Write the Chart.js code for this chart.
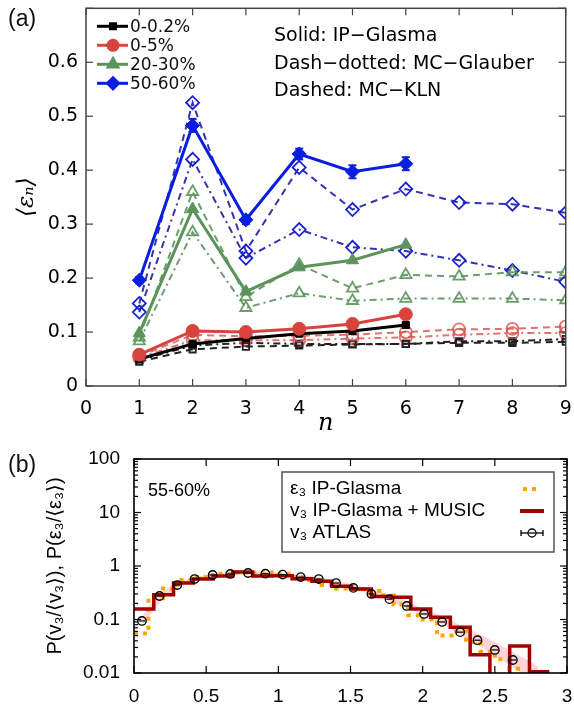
<!DOCTYPE html>
<html>
<head>
<meta charset="utf-8">
<script src="https://cdn.jsdelivr.net/npm/chart.js@4.4.0/dist/chart.umd.min.js"></script>
<style>
  body { margin: 0; background: #fff; width: 574px; height: 708px; position: relative; overflow: hidden; font-family: "DejaVu Sans", sans-serif; }
  #chartA { position: absolute; left: 0; top: 0; }
  #chartB { position: absolute; left: 0; top: 440px; }
  .lbl { position: absolute; font-size: 23px; color: #111; font-family: "Liberation Sans", "DejaVu Sans", sans-serif; }
</style>
</head>
<body>
<canvas id="chartA" width="574" height="440"></canvas>
<canvas id="chartB" width="574" height="268"></canvas>
<div class="lbl" style="left:8px;top:5px">(a)</div>
<div class="lbl" style="left:8px;top:451px">(b)</div>
<script>
// ---- panel (a): <eps_n> vs n ----
var nAll = [1, 2, 3, 4, 5, 6, 7, 8, 9];
var nIP = [1, 2, 3, 4, 5, 6];
var centralities = ['0-0.2%', '0-5%', '20-30%', '50-60%'];

var ip_0_02   = [0.050, 0.078, 0.088, 0.097, 0.102, 0.113];
var ip_0_5    = [0.058, 0.102, 0.100, 0.106, 0.115, 0.133];
var ip_20_30  = [0.098, 0.328, 0.175, 0.220, 0.233, 0.262];
var ip_50_60  = [0.196, 0.483, 0.308, 0.430, 0.397, 0.412];
var ipErr_50_60 = [0.006, 0.012, 0.008, 0.010, 0.012, 0.012];

var kln_0_02  = [0.045, 0.068, 0.073, 0.075, 0.077, 0.078, 0.080, 0.080, 0.082];
var kln_0_5   = [0.055, 0.095, 0.092, 0.093, 0.095, 0.100, 0.105, 0.106, 0.110];
var kln_20_30 = [0.090, 0.360, 0.165, 0.225, 0.181, 0.206, 0.203, 0.211, 0.211];
var kln_50_60 = [0.153, 0.525, 0.250, 0.405, 0.327, 0.365, 0.340, 0.337, 0.321];

var glb_0_02  = [0.048, 0.075, 0.080, 0.078, 0.078, 0.078, 0.083, 0.083, 0.087];
var glb_0_5   = [0.052, 0.085, 0.085, 0.085, 0.088, 0.090, 0.095, 0.098, 0.098];
var glb_20_30 = [0.083, 0.285, 0.145, 0.172, 0.158, 0.162, 0.162, 0.162, 0.159];
var glb_50_60 = [0.137, 0.420, 0.237, 0.290, 0.257, 0.250, 0.233, 0.214, 0.193];

var yTickLabelsA = ['0', '0.1', '0.2', '0.3', '0.4', '0.5', '0.6', ''];
var modelNotes = ['Solid: IP\u2212Glasma', 'Dash\u2212dotted: MC\u2212Glauber', 'Dashed: MC\u2212KLN'];

// ---- panel (b): event-by-event distribution ----
var atlasX = [0.055, 0.177, 0.30, 0.42, 0.545, 0.667, 0.79, 0.91, 1.03, 1.155, 1.28, 1.40, 1.52, 1.645, 1.77, 1.89, 2.01, 2.135, 2.26, 2.38, 2.50, 2.625];
var atlasY = [0.094, 0.275, 0.44, 0.57, 0.68, 0.71, 0.74, 0.72, 0.69, 0.62, 0.57, 0.48, 0.39, 0.30, 0.24, 0.179, 0.127, 0.090, 0.058, 0.041, 0.027, 0.0175];

var musicEdges = [0, 0.137, 0.274, 0.411, 0.548, 0.685, 0.822, 0.959, 1.096, 1.233, 1.37, 1.507, 1.644, 1.781, 1.918, 2.055, 2.192, 2.329, 2.466, 2.603, 2.74, 2.877];
var musicVals = [0.157, 0.29, 0.48, 0.57, 0.65, 0.77, 0.65, 0.66, 0.58, 0.52, 0.42, 0.37, 0.27, 0.26, 0.157, 0.11, 0.072, 0.022, 0.001, 0.032, 0.0105];

var bandX  = [0.06, 0.13, 0.2, 0.3, 0.4, 0.55, 0.7, 0.9, 1.1, 1.3, 1.5, 1.7, 1.9, 2.1, 2.3, 2.5, 2.7, 2.8];
var bandLo = [0.08, 0.14, 0.24, 0.38, 0.50, 0.60, 0.68, 0.68, 0.60, 0.50, 0.38, 0.26, 0.16, 0.09, 0.045, 0.021, 0.0095, 0.007];
var bandHi = [0.12, 0.22, 0.33, 0.48, 0.60, 0.70, 0.78, 0.78, 0.70, 0.60, 0.46, 0.33, 0.21, 0.125, 0.07, 0.038, 0.019, 0.013];

var epsEdges = [0, 0.1, 0.2, 0.3, 0.4, 0.5, 0.6, 0.7, 0.8, 0.9, 1.0, 1.1, 1.2, 1.3, 1.4, 1.5, 1.6, 1.7, 1.8, 1.9, 2.0, 2.1, 2.2, 2.3, 2.4, 2.5, 2.6, 2.7];
var epsVals = [0.055, 0.25, 0.38, 0.55, 0.62, 0.68, 0.72, 0.76, 0.74, 0.76, 0.72, 0.62, 0.55, 0.44, 0.38, 0.37, 0.34, 0.28, 0.19, 0.12, 0.10, 0.05, 0.06, 0.038, 0.025, 0.018, 0.012];

var xTickLabelsB = ['0', '0.5', '1', '1.5', '2', '2.5', '3'];
var yTickValsB = [0.01, 0.1, 1, 10, 100];
var yTickLabelsB = ['0.01', '0.1', '1', '10', '100'];
var legendB = ['\u03b5\u2083 IP-Glasma', 'v\u2083 IP-Glasma + MUSIC', 'v\u2083 ATLAS'];

Chart.defaults.font.family = '"DejaVu Sans", sans-serif';
Chart.defaults.color = '#000';
Chart.defaults.animation = false;

function pts(xs, ys) {
  return xs.map(function (x, i) { return { x: x, y: ys[i] }; });
}
// histogram: each bin value is held from its left edge to the next edge
function stepPts(edges, vals) {
  return edges.map(function (x, i) { return { x: x, y: vals[Math.min(i, vals.length - 1)] }; });
}
function line(ctx, x0, y0, x1, y1) {
  ctx.beginPath(); ctx.moveTo(x0, y0); ctx.lineTo(x1, y1); ctx.stroke();
}

var black = '#000', red = '#d8433e', green = '#5b935b', blue = '#0a1ee0';
var markers = ['rect', 'circle', 'triangle', 'rectRot'];
var radii = [5, 6.5, 7, 7];
var colors = [black, red, green, blue];
var lightColors = ['#222', 'rgba(214,80,76,0.8)', 'rgba(91,147,91,0.9)', '#3434b0'];

function ipSet(i, ys) {
  return { data: pts(nIP, ys), borderColor: colors[i], backgroundColor: colors[i], borderWidth: 3,
    pointStyle: markers[i], pointRadius: radii[i], pointBackgroundColor: colors[i], pointBorderColor: colors[i], pointBorderWidth: 1 };
}
function modelSet(i, ys, dash) {
  return { data: pts(nAll, ys), borderColor: lightColors[i], borderWidth: 2, borderDash: dash,
    pointStyle: markers[i], pointRadius: radii[i] - 0.5, pointBackgroundColor: 'rgba(255,255,255,0)',
    pointBorderColor: i === 3 ? '#1a22d0' : lightColors[i], pointBorderWidth: 1.8 };
}

var ipBlue = ipSet(3, ip_50_60);
ipBlue.errorBars = ipErr_50_60;

var datasetsA = [
  ipBlue, ipSet(2, ip_20_30), ipSet(1, ip_0_5), ipSet(0, ip_0_02),
  modelSet(3, kln_50_60, [7, 5]), modelSet(2, kln_20_30, [7, 5]), modelSet(1, kln_0_5, [7, 5]), modelSet(0, kln_0_02, [7, 5]),
  modelSet(3, glb_50_60, [7, 4, 2, 4]), modelSet(2, glb_20_30, [7, 4, 2, 4]), modelSet(1, glb_0_5, [7, 4, 2, 4]), modelSet(0, glb_0_02, [7, 4, 2, 4])
];

// box + inward ticks
var framePlugin = {
  id: 'frame',
  afterDraw: function (chart, args, opts) {
    var ctx = chart.ctx, a = chart.chartArea, sx = chart.scales.x, sy = chart.scales.y;
    ctx.save();
    ctx.strokeStyle = opts.color; ctx.lineWidth = 1.2;
    sx.ticks.forEach(function (t) {
      var px = sx.getPixelForValue(t.value);
      line(ctx, px, a.bottom, px, a.bottom - 7);
      line(ctx, px, a.top, px, a.top + 7);
    });
    sy.ticks.forEach(function (t) {
      var len = 7;
      if (sy.type === 'logarithmic') {
        var d = Math.pow(10, Math.floor(Math.log10(t.value) + 1e-9));
        var r = t.value / d;
        if (Math.abs(r - Math.round(r)) > 1e-6) return;
        len = Math.abs(r - 1) < 1e-6 ? 7 : 4;
      }
      var py = sy.getPixelForValue(t.value);
      line(ctx, a.left, py, a.left + len, py);
      line(ctx, a.right, py, a.right - len, py);
    });
    ctx.lineWidth = opts.width;
    ctx.strokeRect(a.left, a.top, a.right - a.left, a.bottom - a.top);
    ctx.restore();
  }
};

var errorBarPlugin = {
  id: 'errorBars',
  afterDatasetsDraw: function (chart) {
    var ctx = chart.ctx, sy = chart.scales.y;
    chart.data.datasets.forEach(function (ds, i) {
      if (!ds.errorBars) return;
      var meta = chart.getDatasetMeta(i);
      ctx.save(); ctx.strokeStyle = ds.borderColor; ctx.lineWidth = 2;
      meta.data.forEach(function (pt, j) {
        var v = ds.data[j].y, e = ds.errorBars[j];
        var y0 = sy.getPixelForValue(v - e), y1 = sy.getPixelForValue(v + e);
        line(ctx, pt.x, y0, pt.x, y1);
        line(ctx, pt.x - 4, y0, pt.x + 4, y0);
        line(ctx, pt.x - 4, y1, pt.x + 4, y1);
      });
      ctx.restore();
    });
  }
};

var textA = {
  id: 'textA',
  afterDraw: function (chart) {
    var ctx = chart.ctx, a = chart.chartArea;
    ctx.save();
    ctx.textBaseline = 'middle';
    centralities.forEach(function (lab, i) {
      var y = a.top + 18 + i * 19;
      ctx.strokeStyle = colors[i]; ctx.fillStyle = colors[i]; ctx.lineWidth = 3;
      line(ctx, a.left + 11, y, a.left + 42, y);
      Chart.helpers.drawPoint(ctx, { pointStyle: markers[i], rotation: 0, radius: radii[i] - 1.5, borderWidth: 1 }, a.left + 27, y);
      ctx.fillStyle = '#111'; ctx.font = '17px "DejaVu Sans"';
      ctx.fillText(lab, a.left + 44, y + 1);
    });
    ctx.font = '19px "DejaVu Sans"'; ctx.fillStyle = '#000';
    modelNotes.forEach(function (t, i) {
      ctx.fillText(t, a.left + 188, a.top + 28 + i * 27.5);
    });
    ctx.restore();
  }
};

new Chart(document.getElementById('chartA').getContext('2d'), {
  type: 'line',
  data: { datasets: datasetsA },
  options: {
    responsive: false,
    layout: { padding: { left: 0, top: 4, right: 6, bottom: 0 } },
    plugins: { legend: { display: false }, tooltip: { enabled: false }, frame: { color: '#444', width: 1.5 } },
    scales: {
      x: {
        type: 'linear', min: 0, max: 9,
        ticks: { stepSize: 1, padding: 12, font: { size: 19 } },
        grid: { display: false, drawTicks: false }, border: { display: false },
        title: { display: true, text: 'n', font: { family: '"DejaVu Serif"', style: 'italic', size: 24 }, padding: { top: 0, bottom: 2 } },
        afterFit: function (s) { s.height = 54; s.paddingLeft = 0; s.paddingRight = 0; }
      },
      y: {
        min: 0, max: 0.7,
        ticks: { stepSize: 0.1, padding: 8, font: { size: 19 },
          callback: function (v) { return yTickLabelsA[Math.round(v * 10)]; } },
        grid: { display: false, drawTicks: false }, border: { display: false },
        title: { display: true, text: '\u27e8\u03b5\u2099\u27e9', font: { family: '"DejaVu Serif"', style: 'italic', size: 23 }, padding: { top: 13, bottom: 0 } },
        afterFit: function (s) { s.width = 86; s.paddingTop = 0; s.paddingBottom = 0; }
      }
    }
  },
  plugins: [framePlugin, errorBarPlugin, textA]
});

// ---- panel (b) ----
var textB = {
  id: 'textB',
  afterDraw: function (chart) {
    var ctx = chart.ctx, a = chart.chartArea;
    ctx.save();
    ctx.textBaseline = 'middle';
    ctx.font = '18px "Liberation Sans", "DejaVu Sans"'; ctx.fillStyle = '#000';
    ctx.fillText('55-60%', a.left + 14, a.top + 32);
    // legend box
    ctx.fillStyle = '#fff';
    ctx.fillRect(a.left + 148, a.top + 13, 272, 80);
    ctx.strokeStyle = '#555'; ctx.lineWidth = 1.5;
    ctx.strokeRect(a.left + 148, a.top + 13, 272, 80);
    ctx.fillStyle = '#000'; ctx.font = '19px "Liberation Sans", "DejaVu Sans"';
    legendB.forEach(function (t, i) { ctx.fillText(t, a.left + 156, a.top + 30 + i * 22); });
    var cx = a.left + 398;
    ctx.strokeStyle = '#ffa500'; ctx.lineWidth = 4; ctx.setLineDash([4, 5]);
    line(ctx, cx - 9, a.top + 30, cx + 9, a.top + 30);
    ctx.setLineDash([]);
    ctx.strokeStyle = '#a30000'; ctx.lineWidth = 4;
    line(ctx, cx - 12, a.top + 52, cx + 12, a.top + 52);
    ctx.strokeStyle = '#000'; ctx.lineWidth = 1.3;
    var yl = a.top + 74;
    line(ctx, cx - 11, yl, cx + 11, yl);
    line(ctx, cx - 11, yl - 3, cx - 11, yl + 3);
    line(ctx, cx + 11, yl - 3, cx + 11, yl + 3);
    ctx.beginPath(); ctx.arc(cx, yl, 4, 0, Math.PI * 2); ctx.fillStyle = '#fff'; ctx.fill(); ctx.stroke();
    line(ctx, cx - 3, yl, cx + 3, yl);
    ctx.restore();
  }
};

new Chart(document.getElementById('chartB').getContext('2d'), {
  type: 'line',
  data: {
    datasets: [
      { data: pts(atlasX, atlasY), showLine: false, pointStyle: 'circle', pointRadius: 4.2,
        pointBackgroundColor: 'rgba(255,255,255,0)', pointBorderColor: '#000', pointBorderWidth: 1.4 },
      { data: pts(atlasX, atlasY), showLine: false, pointStyle: 'line', pointRadius: 3.2,
        pointBorderColor: '#000', pointBorderWidth: 1.2 },
      { data: stepPts(musicEdges, musicVals), stepped: 'before', borderColor: '#a30000', borderWidth: 3.5, pointRadius: 0 },
      { data: stepPts(epsEdges, epsVals), stepped: 'before', borderColor: '#ffa500', borderWidth: 4, borderDash: [4, 5], pointRadius: 0 },
      { data: pts(bandX, bandHi), borderWidth: 0, borderColor: 'rgba(0,0,0,0)', pointRadius: 0, tension: 0.3,
        fill: '+1', backgroundColor: 'rgba(255,170,180,0.5)' },
      { data: pts(bandX, bandLo), borderWidth: 0, borderColor: 'rgba(0,0,0,0)', pointRadius: 0, tension: 0.3, fill: false }
    ]
  },
  options: {
    responsive: false,
    layout: { padding: { left: 40, top: 19, right: 7, bottom: 0 } },
    plugins: { legend: { display: false }, tooltip: { enabled: false }, frame: { color: '#000', width: 1.6 } },
    scales: {
      x: {
        type: 'linear', min: 0, max: 3,
        ticks: { stepSize: 0.5, padding: 12, font: { family: '"Liberation Sans"', size: 19 },
          callback: function (v) { return xTickLabelsB[Math.round(v * 2)]; } },
        grid: { display: false, drawTicks: false }, border: { display: false },
        afterFit: function (s) { s.height = 35; s.paddingLeft = 0; s.paddingRight = 0; }
      },
      y: {
        type: 'logarithmic', min: 0.01, max: 100,
        ticks: { autoSkip: false, padding: 14, font: { family: '"Liberation Sans"', size: 19 },
          callback: function (v) {
            for (var k = 0; k < yTickValsB.length; k++) {
              if (Math.abs(v / yTickValsB[k] - 1) < 1e-6) return yTickLabelsB[k];
            }
            return '';
          } },
        grid: { display: false, drawTicks: false }, border: { display: false },
        title: { display: true, text: 'P(v\u2083/\u27e8v\u2083\u27e9), P(\u03b5\u2083/\u27e8\u03b5\u2083\u27e9)',
          font: { family: '"Liberation Sans", "DejaVu Sans"', size: 20 }, padding: { top: 3, bottom: 0 } },
        afterFit: function (s) { s.width = 94; s.paddingTop = 0; s.paddingBottom = 0; }
      }
    }
  },
  plugins: [framePlugin, textB]
});
</script>
</body>
</html>
